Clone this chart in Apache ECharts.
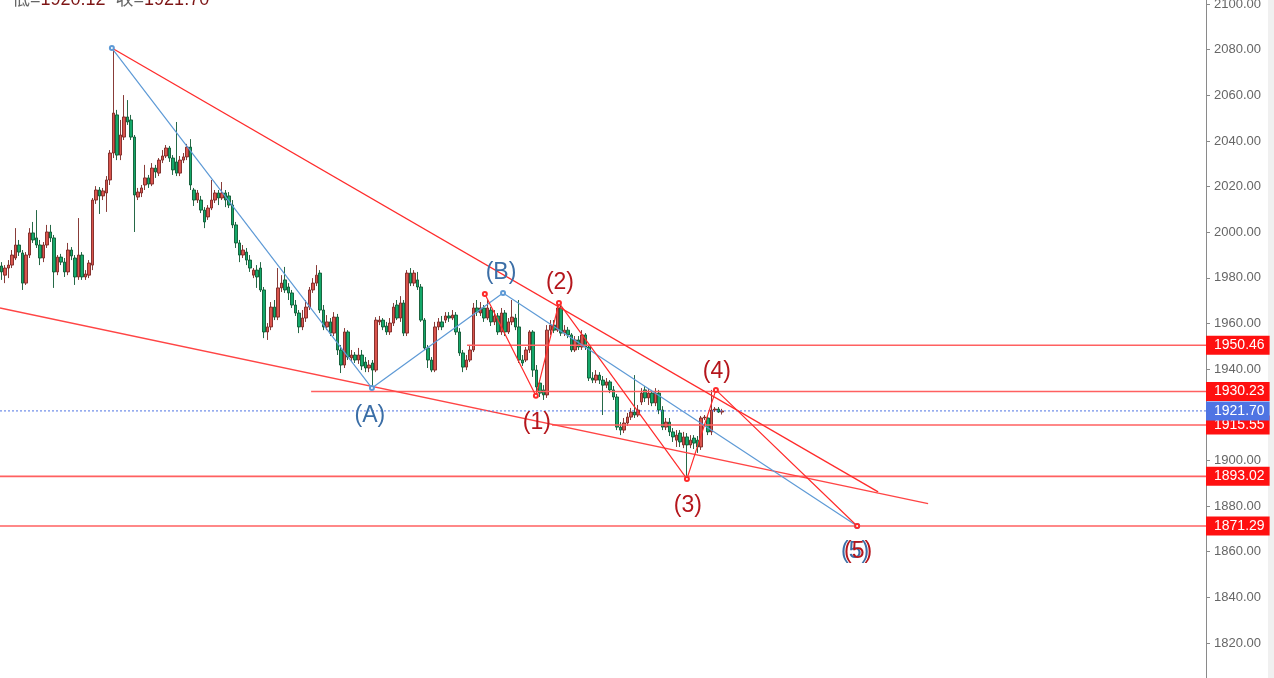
<!DOCTYPE html>
<html>
<head>
<meta charset="utf-8">
<script src="https://cdn.jsdelivr.net/npm/echarts@6/dist/echarts.min.js"></script>
<style>
html,body{margin:0;padding:0;background:#fff;}
#chart{width:1274px;height:678px;}
</style>
</head>
<body>
<div id="chart"></div>
<script>
// ---------- data ----------
const TOTAL_SLOTS = 345; // candle slots across the plot (incl. empty future area)
// [open, close, low, high]
const ohlc = [
[1985.2,1982.6,1979.1,1986.9],[1981.2,1984.3,1977.7,1985.6],[1984.3,1985.6,1979.9,1987.8],[1985.6,1990.0,1984.3,1992.2],
[1988.7,1994.4,1987.8,2001.8],[1994.4,1991.3,1989.6,1996.6],[1990.9,1977.7,1974.7,1992.2],[1977.7,1990.0,1976.9,1991.3],
[1990.0,1999.7,1988.7,2001.8],[1999.7,1996.6,1995.3,2004.5],[1997.5,1994.4,1993.1,2009.7],[1994.4,1988.7,1985.6,1996.6],
[1988.7,1994.4,1986.9,1995.7],[1994.4,2000.1,1993.1,2003.2],[2000.1,1997.5,1995.7,2003.2],[1997.5,1982.6,1975.6,1998.8],
[1982.6,1989.1,1981.2,1990.0],[1989.1,1986.9,1985.6,1990.5],[1986.9,1982.6,1980.4,1988.7],[1982.6,1992.2,1981.2,1995.3],
[1992.2,1989.6,1987.8,1993.5],[1988.7,1980.4,1976.9,1990.0],[1980.4,1990.0,1979.1,2006.2],[1990.0,1980.4,1979.1,1991.3],
[1980.4,1981.7,1979.1,1983.4],[1981.2,1986.5,1979.9,1987.8],[1985.6,2014.1,1983.4,2015.0],[2014.1,2018.5,2012.4,2020.2],
[2018.5,2015.9,2008.0,2019.8],[2015.9,2018.1,2014.1,2019.4],[2017.2,2022.9,2008.9,2024.6],[2022.9,2034.7,2020.7,2036.0],
[2034.7,2052.2,2032.5,2080.7],[2051.4,2033.8,2031.6,2053.6],[2033.8,2042.6,2031.6,2049.2],[2041.7,2050.5,2040.4,2060.1],
[2050.5,2048.3,2047.0,2057.9],[2049.2,2041.7,2040.4,2051.4],[2041.7,2016.3,2000.1,2042.6],[2015.4,2017.6,2014.1,2019.4],
[2017.2,2019.4,2015.4,2020.7],[2020.7,2023.8,2018.5,2029.5],[2023.8,2021.1,2019.4,2025.1],[2021.1,2028.1,2020.2,2030.3],
[2028.1,2026.4,2023.8,2029.5],[2025.9,2031.6,2024.6,2032.5],[2031.6,2033.4,2030.3,2036.0],[2033.4,2036.9,2032.5,2038.2],
[2036.9,2032.5,2030.8,2037.8],[2032.5,2027.3,2025.1,2033.8],[2030.8,2025.9,2024.6,2048.3],[2025.9,2031.6,2024.6,2033.4],
[2031.6,2033.0,2030.3,2034.7],[2033.0,2037.3,2031.6,2038.7],[2037.3,2020.7,2018.5,2040.8],[2018.5,2014.1,2011.5,2019.4],
[2014.1,2017.2,2012.8,2018.5],[2014.1,2009.7,2008.4,2015.9],[2009.7,2004.5,2001.8,2011.0],[2006.7,2010.6,2005.4,2011.9],
[2010.6,2014.1,2009.7,2022.9],[2014.1,2017.2,2012.8,2018.5],[2017.2,2015.0,2011.9,2018.5],[2015.0,2017.2,2014.1,2022.0],
[2017.2,2014.1,2011.0,2018.5],[2015.9,2011.9,2010.6,2017.6],[2011.9,2003.2,2001.8,2014.1],[2003.2,1995.3,1993.1,2004.5],
[1995.3,1990.0,1986.9,1996.6],[1990.0,1992.2,1988.7,1994.4],[1991.3,1987.8,1985.6,1993.1],[1987.8,1984.3,1982.6,1990.0],
[1981.2,1983.4,1979.9,1984.3],[1983.4,1980.4,1975.6,1985.6],[1984.3,1974.7,1973.8,1986.9],[1974.7,1956.3,1953.6,1976.0],
[1956.3,1958.5,1952.8,1960.2],[1958.5,1967.2,1957.1,1969.4],[1967.2,1962.8,1961.5,1970.3],[1962.8,1975.6,1961.5,1984.3],
[1975.6,1977.7,1973.8,1981.2],[1979.1,1974.7,1973.4,1984.8],[1976.0,1973.4,1970.3,1977.7],[1973.4,1968.1,1966.8,1974.7],
[1968.1,1964.6,1963.3,1970.3],[1964.6,1958.5,1955.8,1965.9],[1958.5,1962.4,1957.1,1965.9],[1962.4,1967.2,1960.7,1970.3],
[1967.2,1974.7,1965.9,1976.0],[1974.7,1977.7,1973.4,1979.9],[1977.7,1981.2,1976.4,1985.6],[1982.1,1965.9,1964.6,1983.4],
[1965.9,1958.5,1957.1,1968.1],[1958.5,1960.7,1957.1,1963.7],[1960.7,1955.8,1954.5,1962.4],[1955.8,1962.8,1954.5,1965.0],
[1962.8,1948.4,1946.2,1964.2],[1948.4,1941.8,1938.3,1950.6],[1941.8,1956.3,1940.5,1958.0],[1956.3,1945.3,1944.0,1957.1],
[1944.9,1946.2,1943.1,1948.4],[1946.2,1944.0,1942.7,1947.5],[1944.0,1946.2,1942.3,1949.3],[1946.2,1941.4,1939.6,1948.4],
[1943.1,1940.5,1938.7,1945.3],[1940.5,1941.8,1938.7,1944.0],[1942.7,1939.6,1931.7,1944.0],[1939.6,1961.5,1938.7,1962.8],
[1960.7,1961.5,1959.3,1963.3],[1961.5,1958.5,1957.1,1962.4],[1958.9,1956.3,1955.0,1960.7],[1956.3,1960.2,1955.0,1962.4],
[1960.2,1967.2,1958.9,1969.0],[1968.1,1962.4,1961.5,1970.3],[1962.4,1969.0,1960.7,1972.0],[1969.0,1955.8,1954.5,1970.3],
[1955.8,1982.1,1954.5,1983.4],[1982.1,1977.7,1976.4,1984.3],[1977.7,1982.1,1976.4,1983.4],[1979.1,1976.0,1974.7,1982.6],
[1976.0,1961.5,1960.7,1977.3],[1961.5,1949.3,1948.4,1962.4],[1949.3,1944.0,1940.5,1950.6],[1944.0,1939.6,1938.7,1945.3],
[1939.6,1958.5,1938.7,1960.7],[1958.5,1960.7,1957.1,1962.4],[1960.7,1958.5,1957.1,1963.3],[1961.5,1963.3,1960.2,1965.0],
[1963.3,1962.4,1960.7,1965.0],[1962.4,1963.7,1961.5,1965.9],[1963.7,1956.3,1955.0,1965.0],[1956.3,1947.1,1945.8,1958.0],
[1947.1,1940.9,1938.7,1948.4],[1940.9,1944.0,1939.6,1946.2],[1944.0,1948.4,1943.1,1950.6],[1948.4,1966.8,1947.5,1969.0],
[1966.8,1965.0,1963.3,1970.3],[1964.6,1966.8,1963.3,1969.4],[1966.8,1962.4,1960.7,1968.1],[1962.4,1966.8,1961.5,1970.3],
[1965.9,1960.7,1958.9,1967.2],[1960.7,1963.3,1959.3,1965.9],[1963.3,1956.3,1955.0,1964.6],[1956.3,1964.6,1955.0,1966.8],
[1964.6,1956.3,1954.5,1965.9],[1956.3,1960.7,1955.4,1962.4],[1960.7,1962.8,1959.3,1970.3],[1962.4,1958.5,1957.1,1964.2],
[1958.5,1944.0,1942.7,1970.3],[1944.0,1942.7,1941.4,1946.2],[1944.0,1948.4,1943.1,1949.7],[1948.4,1956.3,1947.1,1957.1],
[1956.3,1939.6,1936.6,1957.1],[1939.6,1932.2,1930.0,1941.8],[1933.9,1929.5,1927.8,1935.2],[1930.9,1928.7,1926.5,1933.0],
[1928.7,1957.1,1927.4,1959.3],[1957.1,1959.3,1955.0,1961.5],[1959.3,1957.1,1955.8,1961.5],[1957.1,1966.8,1956.3,1969.0],
[1966.8,1955.8,1954.5,1968.1],[1955.8,1957.1,1954.5,1959.3],[1957.1,1955.0,1953.6,1958.5],[1955.0,1948.4,1947.5,1955.8],
[1948.4,1952.8,1947.5,1954.5],[1952.8,1949.7,1948.4,1954.5],[1949.7,1955.0,1948.4,1957.1],[1955.0,1949.7,1948.4,1955.8],
[1949.7,1936.1,1934.8,1950.6],[1936.1,1935.2,1933.9,1938.7],[1935.2,1937.4,1933.9,1939.6],[1937.4,1935.2,1933.5,1938.7],
[1935.2,1933.0,1919.9,1937.0],[1933.0,1934.4,1931.7,1936.1],[1934.4,1930.9,1929.5,1935.2],[1930.9,1927.8,1926.5,1932.6],
[1927.8,1914.6,1913.3,1929.1],[1914.6,1913.3,1911.1,1916.8],[1913.3,1916.4,1912.0,1918.6],[1916.4,1919.0,1915.1,1920.8],
[1919.0,1921.2,1917.7,1923.0],[1921.2,1919.9,1918.6,1937.4],[1919.9,1922.1,1919.0,1924.3],[1925.6,1929.5,1924.3,1931.7],
[1930.9,1927.4,1925.6,1932.6],[1927.4,1929.5,1924.3,1931.7],[1929.5,1925.2,1923.8,1930.9],[1925.2,1929.5,1923.8,1931.7],
[1929.5,1922.1,1920.3,1930.9],[1922.1,1914.6,1913.3,1923.8],[1914.6,1916.8,1913.3,1918.6],[1916.8,1912.5,1910.7,1918.6],
[1912.5,1910.3,1908.1,1914.2],[1908.9,1911.1,1905.9,1913.3],[1912.0,1908.1,1905.9,1913.3],[1906.8,1910.3,1905.4,1912.5],
[1910.3,1906.8,1891.9,1912.0],[1906.8,1908.9,1905.4,1911.1],[1909.8,1907.6,1905.0,1911.1],[1908.9,1905.9,1903.3,1910.7],
[1905.9,1918.6,1904.6,1919.5],[1918.6,1919.0,1917.7,1919.9],[1918.6,1912.5,1911.1,1919.9],[1912.5,1922.1,1911.1,1930.9],
[1922.1,1922.5,1921.2,1923.4],[1922.5,1921.2,1920.8,1923.4],[1921.2,1921.70,1920.12,1922.6]
];
const slotLabels = Array.from({length: TOTAL_SLOTS}, (_, i) => String(i));

// drawings, as [slot index, price]
const abcWave = [[31.5, 2080.7], [105.9, 1931.7], [143.4, 1973.4], [244.7, 1871.29]];
const abcNames = ['', '(A)', '(B)', '(5)'];
const impulseWave = [[138.2, 1972.9], [152.8, 1928.3], [159.4, 1969.0], [196.0, 1891.9], [204.3, 1930.9], [244.7, 1871.29]];
const impulseNames = ['', '(1)', '(2)', '(3)', '(4)', '(5)'];
const upperTrend = [[31.5, 2080.7], [250.7, 1886.2]];
const lowerTrend = [[-0.5, 1966.8], [265.0, 1881.1]];
const levelPrices = [1950.46, 1930.23, 1915.55, 1893.02, 1871.29];
const levelStarts = [133.1, 88.5, 157.4, -0.5, -0.5];
const lastClose = 1921.70;
const lastLow = 1920.12;
const yTicks = {min: 1800, max: 2120, step: 20};

// ---------- chart ----------
const chart = echarts.init(document.getElementById('chart'), null, {renderer: 'canvas'});
const FONT = '"Liberation Sans", Arial, "Noto Sans CJK SC", sans-serif';
const RED = '#ff2b2b', LEVEL = '#ff6060', BLUE = '#5e9ad6';
const LBL_BLUE = '#3b6ea6', LBL_RED = '#b5161c';
const xEnd = TOTAL_SLOTS - 0.5;

const labelPos = {'(A)': ['bottom', 13], '(B)': ['top', 6], '(1)': ['bottom', 12], '(2)': ['top', 6],
                  '(3)': ['bottom', 12], '(4)': ['top', 4], '(5)': ['bottom', 11]};
function waveData(pts, names, color, dx) {
  return pts.map((p, i) => {
    const n = names[i];
    const item = {value: p};
    if (n) {
      item.label = {show: true, formatter: n, position: labelPos[n][0], distance: labelPos[n][1],
        color: color, fontSize: 23, fontFamily: FONT, offset: [dx, 0]};
    }
    return item;
  });
}

const series = [
  {
    type: 'candlestick', name: 'k', xAxisIndex: 0, yAxisIndex: 0, z: 2,
    data: ohlc, barWidth: 3,
    itemStyle: {color: '#d9544d', color0: '#14a86a', borderColor: '#7a2622', borderColor0: '#0d5832', borderWidth: 0.9}
  }
];
levelPrices.forEach((p, i) => {
  series.push({
    type: 'line', xAxisIndex: 1, yAxisIndex: 0, z: 4, clip: false, symbol: 'none', silent: true,
    data: [[levelStarts[i], p], [xEnd, p]],
    lineStyle: {color: LEVEL, width: 1.6},
    endLabel: {show: true, formatter: () => p.toFixed(2), color: '#fff', backgroundColor: '#ff1010',
      fontSize: 14, fontFamily: FONT, padding: [3, 5, 2, 8], distance: 0, lineHeight: 14}
  });
});
series.push({
  type: 'line', xAxisIndex: 1, yAxisIndex: 0, z: 5, clip: false, symbol: 'none', silent: true,
  data: [[-0.5, lastClose], [xEnd, lastClose]],
  lineStyle: {color: '#4f74e3', width: 1, type: [2, 2]},
  endLabel: {show: true, formatter: () => lastClose.toFixed(2), color: '#fff', backgroundColor: '#4f74e3',
    fontSize: 14, fontFamily: FONT, padding: [3, 5, 2, 8], distance: 0, lineHeight: 14}
});
series.push({type: 'line', xAxisIndex: 1, yAxisIndex: 0, z: 4, symbol: 'none', silent: true,
  data: upperTrend, lineStyle: {color: RED, width: 1.3}});
series.push({type: 'line', xAxisIndex: 1, yAxisIndex: 0, z: 4, symbol: 'none', silent: true,
  data: lowerTrend, lineStyle: {color: '#ff4545', width: 1.3}});
series.push({type: 'line', xAxisIndex: 1, yAxisIndex: 0, z: 6, symbol: 'emptyCircle', symbolSize: 4, silent: true,
  data: waveData(abcWave, abcNames, LBL_BLUE, -2), lineStyle: {color: BLUE, width: 1.2},
  itemStyle: {color: BLUE, borderWidth: 1}});
series.push({type: 'line', xAxisIndex: 1, yAxisIndex: 0, z: 7, symbol: 'emptyCircle', symbolSize: 4, silent: true,
  data: waveData(impulseWave, impulseNames, LBL_RED, 1), lineStyle: {color: RED, width: 1.2},
  itemStyle: {color: RED, borderWidth: 1}});

const option = {
  animation: false,
  backgroundColor: '#ffffff',
  title: {
    text: '{g|低=}{r|' + lastLow.toFixed(2) + '}  {g|收=}{r|' + lastClose.toFixed(2) + '}',
    left: 7, top: -14, padding: 5,
    textStyle: {fontWeight: 'normal', rich: {
      g: {color: '#666', fontSize: 18, fontWeight: 'normal', fontFamily: FONT},
      r: {color: '#7d1515', fontSize: 18, fontWeight: 'normal', fontFamily: FONT}
    }}
  },
  grid: {left: 0, right: 68, top: -41.64, bottom: -10.66, containLabel: false, outerBoundsMode: 'none'},
  xAxis: [
    {type: 'category', data: slotLabels, boundaryGap: true, show: false},
    {type: 'value', min: -0.5, max: xEnd, show: false}
  ],
  yAxis: [{
    type: 'value', position: 'right', min: yTicks.min, max: yTicks.max, interval: yTicks.step, scale: true,
    axisLine: {show: true, onZero: false, lineStyle: {color: '#8a8a8a', width: 1}},
    axisTick: {show: true, length: 4, lineStyle: {color: '#8a8a8a'}},
    splitLine: {show: false},
    axisLabel: {color: '#666', fontSize: 13, fontFamily: FONT, margin: 8, formatter: v => v.toFixed(2)}
  }],
  graphic: [
    {type: 'rect', right: 0, top: 0, z: -1, shape: {width: 6, height: 678}, style: {fill: '#f0f0f0'}}
  ],
  series: series
};
chart.setOption(option);
</script>
</body>
</html>
